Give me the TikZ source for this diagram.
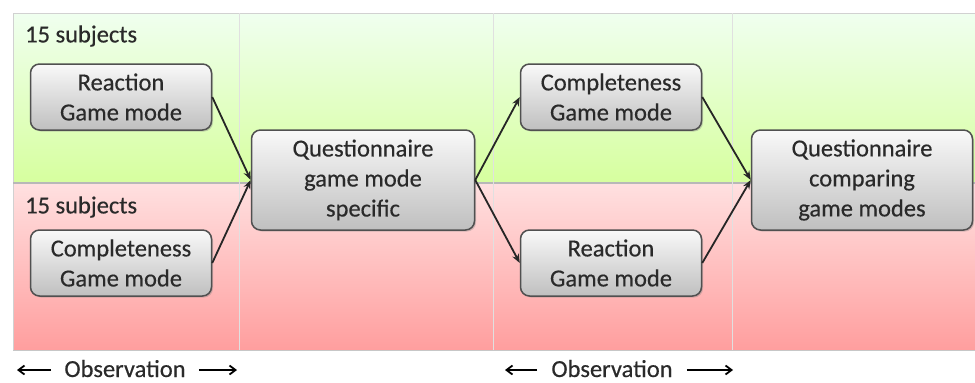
\documentclass[tikz,border=0pt]{standalone}
\usepackage{fontspec}
\setmainfont{Carlito}
\newfontfamily\dfont{Carlito}[FakeBold=0.35]
\usetikzlibrary{shadows,arrows.meta}
\definecolor{txt}{HTML}{2A2A2A}
\definecolor{boxline}{HTML}{505050}
\tikzset{
  gbox/.style={draw=boxline, line width=1.5pt, rounded corners=9pt,
    top color=white!95!gray, bottom color=black!25,
    drop shadow={shadow xshift=1.5pt, shadow yshift=-1.5pt, opacity=0.35},
    align=center, text=txt, font=\dfont\fontsize{24.5}{30}\selectfont, inner sep=0pt},
  flow/.style={-{Stealth[length=9pt,width=7pt]}, line width=1.8pt, black!85},
  lbl/.style={text=txt, font=\dfont\fontsize{24.5}{30}\selectfont, inner sep=0pt},
  obsarrow/.style={-{Straight Barb[length=6pt,width=9pt]}, line width=1.8pt, black}
}
\begin{document}
\begin{tikzpicture}[x=1pt,y=-1pt]
\useasboundingbox (0,0) rectangle (975,383);
% background bands
\shade[top color=green!6!white, bottom color=green!42!yellow!38!white] (13,13) rectangle (975,183);
\shade[top color=red!12!white, bottom color=red!38!white] (13,183) rectangle (975,350);
\draw[black!18, line width=0.8pt] (13,350) -- (13,13) -- (975,13);
\draw[black!28, line width=1.2pt] (13,183) -- (975,183);
\draw[black!22, line width=1pt] (13,350) -- (975,350);
\foreach \x in {239,493,732} \draw[black!12, line width=0.6pt] (\x,13) -- (\x,350);
% labels
\node[lbl, anchor=west] (s1) at (25,36) {15 subjects};
\node[lbl, anchor=west] (s2) at (25,207) {15 subjects};
% boxes
\node[gbox, minimum width=181pt, minimum height=66pt] (r1) at (121,97) {Reaction\\Game mode};
\node[gbox, minimum width=181pt, minimum height=66pt] (c1) at (121,263) {Completeness\\Game mode};
\node[gbox, minimum width=223pt, minimum height=100pt] (q1) at (363,180) {Questionnaire\\game mode\\specific};
\node[gbox, minimum width=181pt, minimum height=66pt] (c2) at (611,97) {Completeness\\Game mode};
\node[gbox, minimum width=181pt, minimum height=66pt] (r2) at (611,263) {Reaction\\Game mode};
\node[gbox, minimum width=221pt, minimum height=100pt] (q2) at (862,180) {Questionnaire\\comparing\\game modes};
% connectors
\draw[flow] (r1.east) -- (q1.west);
\draw[flow] (c1.east) -- (q1.west);
\draw[flow] (q1.east) -- (c2.west);
\draw[flow] (q1.east) -- (r2.west);
\draw[flow] (c2.east) -- (q2.west);
\draw[flow] (r2.east) -- (q2.west);
% observation labels
\node[lbl, anchor=base] (o1) at (125,377) {Observation};
\node[lbl, anchor=base] (o2) at (612,377) {Observation};
\coordinate (o1l) at (17,370);
\coordinate (o1r) at (237,370);
\coordinate (o2l) at (505,370);
\coordinate (o2r) at (733,370);
\draw[obsarrow] (o1.west |- o1l) ++(-13,0) -- (o1l);
\draw[obsarrow] (o1.east |- o1r) ++(13,0) -- (o1r);
\draw[obsarrow] (o2.west |- o2l) ++(-14,0) -- (o2l);
\draw[obsarrow] (o2.east |- o2r) ++(14,0) -- (o2r);
\end{tikzpicture}
\end{document}
